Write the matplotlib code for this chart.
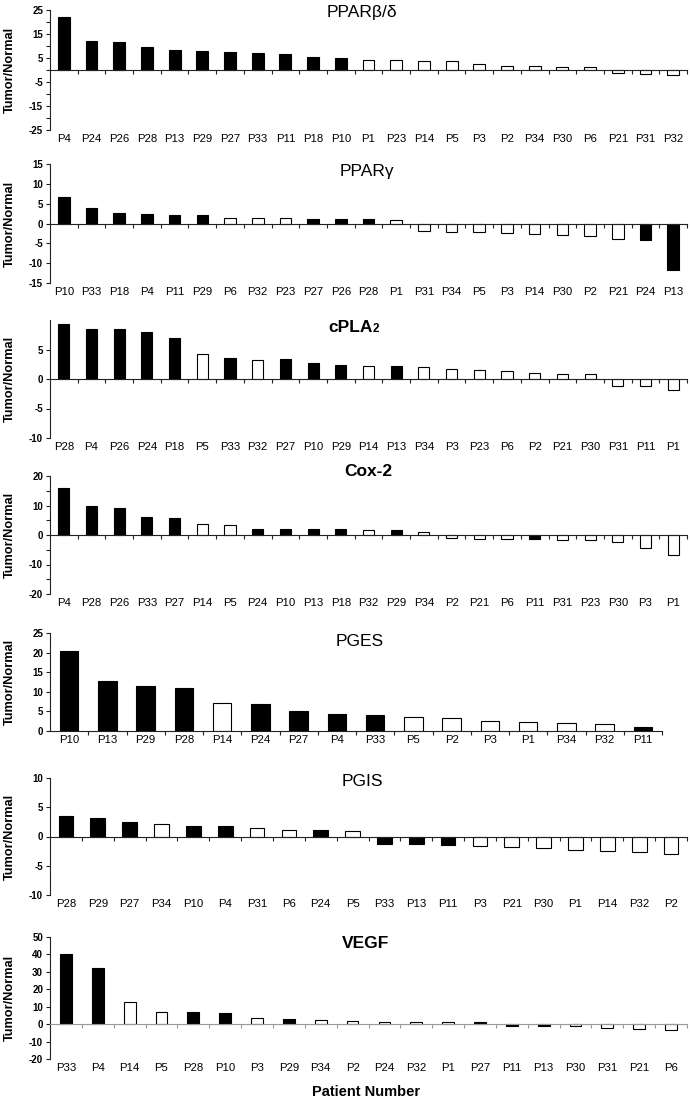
import numpy as np
from matplotlib import pyplot as plt

plt.rcParams['font.family'] = ['Liberation Sans', 'DejaVu Sans']

# ---- data (Tumor/Normal ratio per patient) ----
# dark = True for the black-filled bars
ppard_pat = ['P4', 'P24', 'P26', 'P28', 'P13', 'P29', 'P27', 'P33', 'P11', 'P18', 'P10', 'P1',
             'P23', 'P14', 'P5', 'P3', 'P2', 'P34', 'P30', 'P6', 'P21', 'P31', 'P32']
ppard_val = [22.0, 12.0, 11.7, 9.5, 8.2, 7.8, 7.6, 7.1, 6.5, 5.4, 5.1, 4.3,
             4.0, 3.6, 3.6, 2.6, 1.5, 1.5, 1.1, 1.1, -1.2, -1.6, -2.1]
ppard_dark = [True] * 11 + [False] * 12

pparg_pat = ['P10', 'P33', 'P18', 'P4', 'P11', 'P29', 'P6', 'P32', 'P23', 'P27', 'P26', 'P28',
             'P1', 'P31', 'P34', 'P5', 'P3', 'P14', 'P30', 'P2', 'P21', 'P24', 'P13']
pparg_val = [6.6, 4.0, 2.7, 2.5, 2.2, 2.2, 1.3, 1.3, 1.3, 1.1, 1.1, 1.1,
             0.9, -1.8, -2.1, -2.1, -2.3, -2.7, -2.8, -3.2, -3.9, -4.1, -11.7]
pparg_dark = [True] * 6 + [False] * 3 + [True] * 3 + [False] * 9 + [True] * 2

cpla_pat = ['P28', 'P4', 'P26', 'P24', 'P18', 'P5', 'P33', 'P32', 'P27', 'P10', 'P29', 'P14',
            'P13', 'P34', 'P3', 'P23', 'P6', 'P2', 'P21', 'P30', 'P31', 'P11', 'P1']
cpla_val = [9.3, 8.5, 8.4, 7.9, 6.9, 4.3, 3.5, 3.3, 3.4, 2.75, 2.4, 2.25,
            2.25, 2.0, 1.7, 1.6, 1.4, 1.0, 0.85, 0.85, -1.2, -1.2, -1.85]
cpla_dark = [True] * 5 + [False, True, False, True, True, True, False, True] + [False] * 10

cox_pat = ['P4', 'P28', 'P26', 'P33', 'P27', 'P14', 'P5', 'P24', 'P10', 'P13', 'P18', 'P32',
           'P29', 'P34', 'P2', 'P21', 'P6', 'P11', 'P31', 'P23', 'P30', 'P3', 'P1']
cox_val = [16.0, 9.8, 9.2, 6.2, 5.6, 3.6, 3.4, 2.2, 2.0, 2.0, 2.0, 1.7,
           1.7, 1.1, -1.1, -1.5, -1.5, -1.5, -1.8, -1.8, -2.4, -4.4, -6.7]
cox_dark = [True] * 5 + [False] * 2 + [True] * 4 + [False, True, False, False, False, False,
                                                     True] + [False] * 5

pges_pat = ['P10', 'P13', 'P29', 'P28', 'P14', 'P24', 'P27', 'P4', 'P33', 'P5', 'P2', 'P3',
            'P1', 'P34', 'P32', 'P11']
pges_val = [20.3, 12.8, 11.6, 10.9, 7.2, 7.0, 5.0, 4.4, 4.2, 3.5, 3.2, 2.5, 2.3, 2.1, 1.8, 0.9]
pges_dark = [True] * 4 + [False] + [True] * 4 + [False] * 6 + [True]

pgis_pat = ['P28', 'P29', 'P27', 'P34', 'P10', 'P4', 'P31', 'P6', 'P24', 'P5', 'P33', 'P13',
            'P11', 'P3', 'P21', 'P30', 'P1', 'P14', 'P32', 'P2']
pgis_val = [3.5, 3.2, 2.5, 2.2, 1.8, 1.8, 1.4, 1.1, 1.1, 1.0, -1.2, -1.2,
            -1.5, -1.6, -1.75, -1.9, -2.3, -2.5, -2.6, -3.0]
pgis_dark = [True] * 3 + [False] + [True] * 2 + [False] * 2 + [True, False] + [True] * 3 + [False] * 7

vegf_pat = ['P33', 'P4', 'P14', 'P5', 'P28', 'P10', 'P3', 'P29', 'P34', 'P2', 'P24', 'P32',
            'P1', 'P27', 'P11', 'P13', 'P30', 'P31', 'P21', 'P6']
vegf_val = [40.0, 32.0, 12.9, 6.7, 6.7, 6.3, 3.7, 2.7, 2.5, 1.9, 1.3, 1.3,
            1.0, 1.0, -1.0, -1.1, -1.2, -2.3, -2.7, -3.1]
vegf_dark = [True, True, False, False, True, True, False, True] + [False] * 5 + [True] * 3 + [False] * 4

W, H = 690, 1100
fig = plt.figure(figsize=(W / 100, H / 100), dpi=100)


def panel(top, bottom, pats, vals, dark, ylim, yticks, ylabs, title, tpos, width,
          right=687, left=50, zero_color='#222222', tweight='normal'):
    ax = fig.add_axes([left / W, 1 - bottom / H, (right - left) / W, (bottom - top) / H])
    n = len(pats)
    x = np.arange(n)
    colors = ['black' if d else 'white' for d in dark]
    ax.bar(x, vals, width=width, color=colors, edgecolor='black', linewidth=0.8, zorder=2)
    ax.set_xlim(-0.5, n - 0.5)
    ax.set_ylim(*ylim)
    ax.set_yticks(yticks, labels=ylabs)
    ax.tick_params(axis='y', direction='out', length=3, width=0.8, labelsize=7, pad=2,
                   color='#222222')
    for lab in ax.get_yticklabels():
        lab.set_fontweight('bold')
    ax.spines[['top', 'right']].set_visible(False)
    ax.spines['left'].set_color('#222222')
    ax.spines['bottom'].set_position(('data', 0))
    ax.spines['bottom'].set_color(zero_color)
    ax.spines['bottom'].set_zorder(3)
    ax.set_xticks(np.arange(1, n + 1) - 0.5, labels=[])
    ax.tick_params(axis='x', direction='out', length=3, width=0.8, color=zero_color)
    sec = ax.secondary_xaxis(0)
    sec.set_xticks(x, labels=pats)
    sec.tick_params(length=0, pad=3, labelsize=8.2)
    sec.spines['bottom'].set_visible(False)
    ax.patch.set_visible(False)
    fig.text(10 / W, 1 - (top + bottom) / 2 / H, 'Tumor/Normal', rotation=90,
             ha='center', va='center', fontsize=9.2, fontweight='bold')
    if title == 'cPLA2':
        fig.text(tpos[0] / W, 1 - (tpos[1] + 5) / H, 'cPLA', ha='right', va='baseline',
                 fontsize=12.5, fontweight=tweight)
        fig.text(tpos[0] / W, 1 - (tpos[1] + 5) / H, '2', ha='left', va='baseline',
                 fontsize=8.5, fontweight=tweight)
    else:
        fig.text(tpos[0] / W, 1 - tpos[1] / H, title, ha='center', va='center',
                 fontsize=12.5, fontweight=tweight)
    return ax


def labs(ticks, shown):
    return [str(t) if t in shown else '' for t in ticks]


t1 = list(range(25, -26, -5))
panel(10, 130, ppard_pat, ppard_val, ppard_dark, (-25, 25), t1,
      labs(t1, [25, 15, 5, -5, -15, -25]), 'PPARβ/δ', (362, 13), 0.43)

t2 = list(range(15, -16, -5))
panel(164, 283, pparg_pat, pparg_val, pparg_dark, (-15, 15), t2, labs(t2, t2),
      'PPARγ', (367, 171), 0.42)

t3 = [5, 0, -5, -10]
panel(320, 438, cpla_pat, cpla_val, cpla_dark, (-10, 10), t3, labs(t3, t3),
      'cPLA2', (373, 327), 0.4, tweight='bold')

t4 = list(range(20, -21, -5))
panel(476, 594, cox_pat, cox_val, cox_dark, (-20, 20), t4, labs(t4, [20, 10, 0, -10, -20]),
      'Cox-2', (368, 471), 0.4, tweight='bold')

t5 = list(range(0, 26, 5))
panel(633, 731, pges_pat, pges_val, pges_dark, (0, 25), t5, labs(t5, t5),
      'PGES', (360, 641), 0.48, right=662)

t6 = list(range(10, -11, -5))
panel(778, 895, pgis_pat, pgis_val, pgis_dark, (-10, 10), t6, labs(t6, t6),
      'PGIS', (362, 781), 0.46)

t7 = list(range(50, -21, -10))
panel(937, 1059, vegf_pat, vegf_val, vegf_dark, (-20, 50), t7, labs(t7, t7),
      'VEGF', (366, 944), 0.37, zero_color='#999999', tweight='bold')

fig.text(366 / W, 1 - 1092 / H, 'Patient Number', ha='center', va='center',
         fontsize=10.5, fontweight='bold')

plt.savefig('out.png', dpi=100)
